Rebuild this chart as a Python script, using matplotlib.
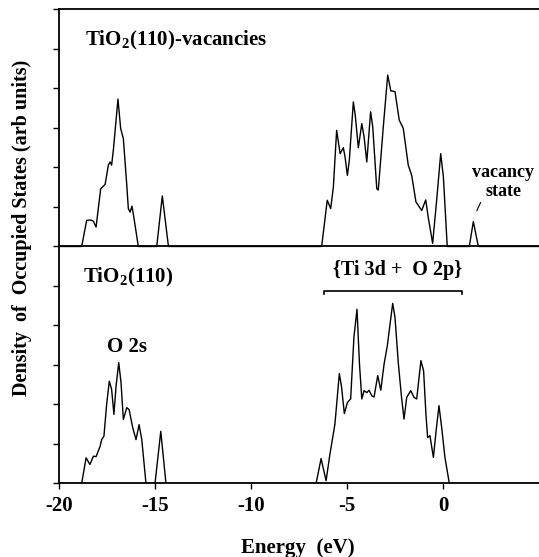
import matplotlib
matplotlib.use("Agg")
import matplotlib.pyplot as plt

# Density of occupied states, TiO2(110) surface with and without O vacancies
# Energies in eV, DOS in arbitrary units (each panel measured from its own baseline)

vac_energy = [-20.0, -18.82, -18.56, -18.35, -18.21, -18.07, -17.83, -17.60, -17.43,
              -17.34, -17.26, -17.17, -16.93, -16.79, -16.65, -16.47, -16.39, -16.30,
              -16.20, -16.09, -15.87, -14.91, -14.62, -14.30,
              -6.32, -6.03, -5.85, -5.71, -5.54, -5.36, -5.19, -5.10, -4.98, -4.88,
              -4.67, -4.57, -4.41, -4.23, -4.11, -3.97, -3.77, -3.66, -3.45, -3.37,
              -3.11, -2.88, -2.72, -2.50, -2.28, -2.07, -1.81, -1.63, -1.41, -1.11,
              -0.90, -0.77, -0.54, -0.33, -0.12, 0.02, 0.22,
              1.37, 1.58, 1.84, 5.0]
vac_dos = [0.0, 0.0, 0.66, 0.67, 0.64, 0.49, 1.46, 1.57, 2.06,
           2.14, 2.06, 2.44, 3.73, 2.99, 2.73, 1.55, 0.96, 0.87,
           1.02, 0.70, 0.0, 0.0, 1.28, 0.0,
           0.0, 1.17, 0.96, 1.51, 2.94, 2.35, 2.50, 2.26, 1.80, 2.18,
           3.66, 3.32, 2.50, 3.11, 2.77, 2.14, 3.41, 3.03, 1.46, 1.43,
           3.03, 4.34, 3.94, 3.92, 3.20, 2.99, 2.06, 1.80, 1.13, 0.91,
           1.18, 0.74, 0.08, 1.17, 2.35, 1.76, 0.0,
           0.0, 0.63, 0.0, 0.0]

bulk_energy = [-20.0, -18.82, -18.59, -18.39, -18.21, -18.07, -17.86, -17.78, -17.66,
               -17.52, -17.38, -17.26, -17.14, -17.03, -16.89, -16.77, -16.65, -16.47,
               -16.35, -16.16, -15.99, -15.83, -15.69, -15.47, -15.00, -14.70, -14.43,
               -6.61, -6.35, -6.09, -5.89, -5.63, -5.40, -5.28, -5.14, -4.98, -4.81,
               -4.64, -4.48, -4.35, -4.23, -4.11, -3.97, -3.85, -3.71, -3.59, -3.40,
               -3.24, -3.07, -2.90, -2.76, -2.62, -2.50, -2.33, -2.16, -2.03, -1.89,
               -1.68, -1.51, -1.37, -1.15, -1.01, -0.89, -0.80, -0.68, -0.50, -0.36,
               -0.21, -0.07, 0.10, 0.33, 5.0]
bulk_dos = [0.0, 0.0, 0.65, 0.48, 0.69, 0.68, 0.94, 1.11, 1.20,
            2.00, 2.59, 2.38, 1.75, 2.46, 3.06, 2.55, 1.62, 1.92,
            1.87, 1.41, 1.11, 1.49, 1.11, 0.0, 0.0, 1.32, 0.0,
            0.0, 0.63, 0.07, 0.74, 1.50, 2.78, 2.43, 1.77, 2.05, 2.14,
            3.70, 4.41, 3.02, 2.14, 2.35, 2.30, 2.36, 2.22, 2.19, 2.73,
            2.36, 3.02, 3.49, 4.03, 4.56, 4.20, 3.06, 2.18, 1.63, 2.18,
            2.35, 2.18, 2.14, 3.11, 2.85, 1.76, 1.16, 1.21, 0.66, 1.33,
            1.97, 1.42, 0.66, 0.0, 0.0]

panel_offset = 6.0
vacancy_peak = (1.70, 0.84)      # where the "vacancy state" pointer lands
valence_band = (-6.18, 0.97)     # extent of the Ti 3d + O 2p bracket

plt.rcParams["font.family"] = ["Liberation Serif", "DejaVu Serif"]
plt.rcParams["font.weight"] = "bold"
plt.rcParams["mathtext.fontset"] = "custom"
plt.rcParams["mathtext.rm"] = "Liberation Serif:bold"

fig = plt.figure(figsize=(5.39, 5.57), dpi=100)
ax = fig.add_axes([0.1095, 0.132, 0.8905, 0.851])

ax.plot(bulk_energy, bulk_dos, color="black", lw=1.0)
ax.plot(vac_energy, [d + panel_offset for d in vac_dos], color="black", lw=1.0)
ax.axhline(panel_offset, color="black", lw=1.3)

ax.set_xlim(-20, 5)
ax.set_ylim(0, 12)
ax.set_xticks([-20, -15, -10, -5, 0])
ax.set_xticklabels(["-20", "-15", "-10", "-5", "0"])
ax.set_yticks(range(0, 13))
ax.set_yticklabels([])
ax.tick_params(axis="both", direction="out", length=4, width=1, labelsize=15, pad=5)
for lab in ax.get_xticklabels():
    lab.set_fontweight("bold")
ax.spines["right"].set_visible(False)
for side in ("left", "bottom", "top"):
    ax.spines[side].set_linewidth(1.3)

# panel labels
ax.text(-18.65, 11.10, "TiO$_\\mathregular{2}$(110)-vacancies", fontsize=15,
        fontweight="bold", va="baseline", ha="left")
ax.text(-18.75, 5.10, "TiO$_\\mathregular{2}$(110)", fontsize=15,
        fontweight="bold", va="baseline", ha="left")
ax.text(-16.47, 3.46, "O 2s", fontsize=15, fontweight="bold", ha="center", va="center")

# valence band bracket
x0, x1 = valence_band
yb = 4.88
ax.plot([x0, x0, x1, x1], [yb - 0.08, yb, yb, yb - 0.08], color="black", lw=1.2)
ax.text(-2.37, 5.40, "{Ti 3d +  O 2p}", fontsize=14.5,
        fontweight="bold", ha="center", va="center")

# vacancy state marker
ax.text(3.13, 7.63, "vacancy\nstate", fontsize=13, fontweight="bold",
        ha="center", va="center", linespacing=1.1)
ax.annotate("", xy=(vacancy_peak[0], vacancy_peak[1] + panel_offset),
            xytext=(2.02, 7.18), arrowprops=dict(arrowstyle="-", lw=0.8, color="black"))

fig.text(0.041, 0.591, "Density  of  Occupied States (arb units)", rotation=90,
         fontsize=14.5, fontweight="bold", ha="center", va="center")
fig.text(0.553, 0.016, "Energy  (eV)", fontsize=15, fontweight="bold",
         ha="center", va="center")

fig.savefig("out.png", dpi=100)
